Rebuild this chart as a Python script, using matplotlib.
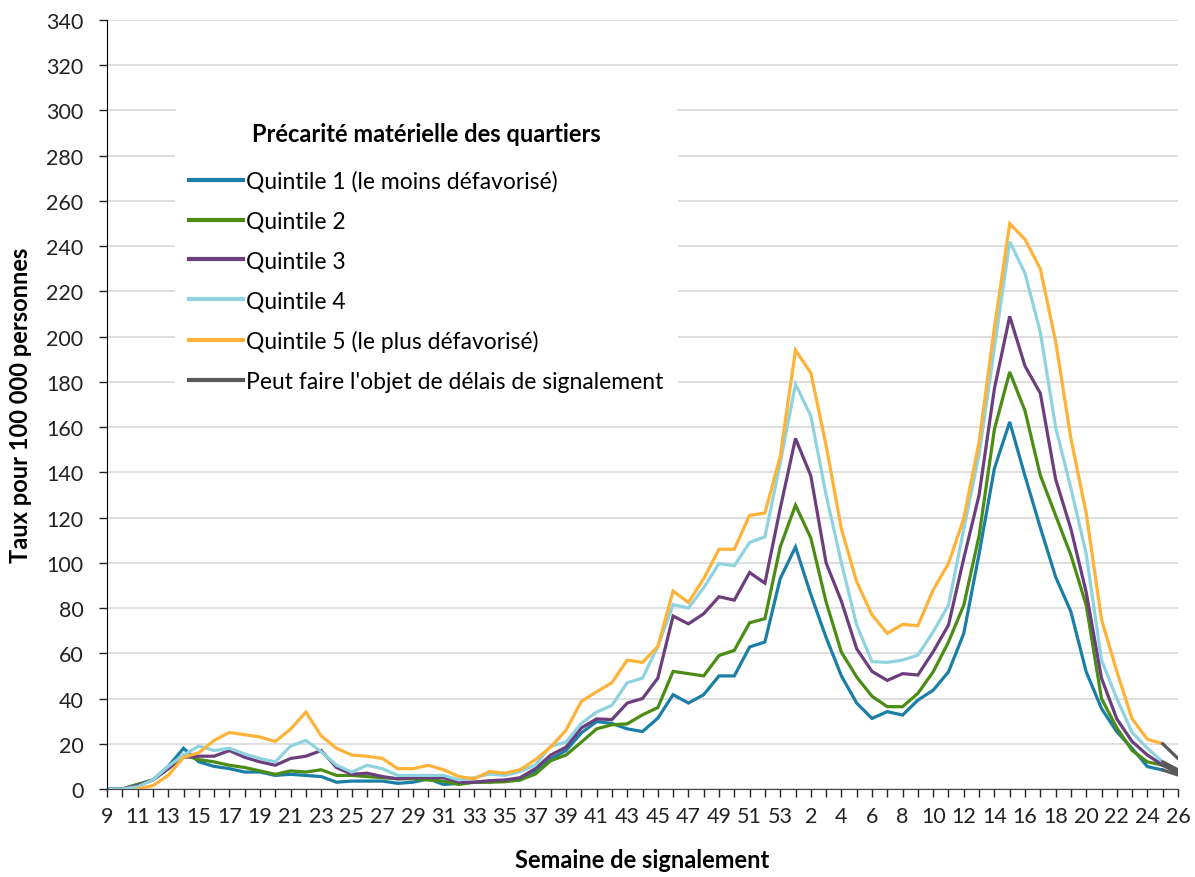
import numpy as np
import matplotlib.pyplot as plt
from matplotlib.lines import Line2D

plt.rcParams['font.family'] = ['Lato', 'DejaVu Sans']

# semaines : 9 a 53 (2020) puis 1 a 26 (2021)
weeks = list(range(9, 54)) + list(range(1, 27))

q1 = [0, 0, 2, 4, 10, 18, 12, 10, 9, 7.5, 7.5, 6, 6.5, 6, 5.5, 3, 3.5, 3.5, 3.5, 2.5, 3, 4.5, 2, 2.5, 3,
      3.2, 3.7, 4, 7.7, 13.3, 17, 24.8, 29.8, 29, 26.6, 25.4, 31.3, 41.7, 38, 41.7, 50, 50, 62.8, 65, 93,
      107, 86, 67, 50, 38, 31.2, 34.2, 32.7, 39.3, 43.7, 51.8, 68.8, 104, 141.7, 162.3, 138.4, 115.6, 93.8,
      78.4, 51.8, 35.6, 25.3, 18, 9.9, 8.4, 6.2]
q2 = [0, 0, 2, 4, 9, 15, 13, 12, 10.5, 9.5, 8, 6.5, 8, 7.5, 8.5, 6, 6, 5.5, 5, 4.5, 4.5, 4, 3.5, 2, 3,
      3, 3.2, 4, 6.6, 12.5, 15, 20.7, 26.6, 28.4, 28.8, 32.8, 36, 52, 51, 50, 59, 61.3, 73.5, 75.3, 107,
      125.5, 111, 82.7, 60.5, 49.5, 41, 36.4, 36.4, 42.3, 51.8, 65, 81.3, 112, 159, 184.4, 167.2, 138.7, 121,
      103.4, 81.3, 40, 27, 17, 12, 10.5, 7]
q3 = [0, 0, 1.5, 4, 9, 14, 14.5, 14.5, 17, 14, 12, 10.5, 13.5, 14.5, 17, 9.5, 6.5, 7, 5.5, 4.5, 5, 5, 5, 3, 3,
      3.7, 4, 5, 9, 15, 18.5, 27, 31, 30.7, 38, 40, 49, 76.5, 73, 77.5, 85, 83.5, 95.7, 91, 124,
      155, 138.5, 100, 83, 62, 52, 48, 51, 50.4, 60.7, 72.5, 102, 130, 177, 209, 187, 175, 137,
      115, 87, 49, 31, 21, 15, 10.6, 7.5]
q4 = [0, 0, 1, 4, 10, 15, 19, 17, 18, 15.5, 13.5, 12, 19, 21.5, 16.5, 10.5, 7.5, 10.5, 9, 6, 6, 6, 6, 4, 5,
      6.6, 6, 7.7, 10.6, 19, 20.7, 29, 34, 37, 47, 49, 63, 81.5, 80, 89, 99.7, 98.7, 109, 111.5, 144,
      179, 165, 130, 100, 72.5, 56.3, 56, 57, 59.2, 69.5, 81.3, 115, 148, 195, 242, 228, 202, 160,
      133, 104, 57, 40, 25, 18, 12, 8.5]
q5 = [None, None, 0, 1.5, 6, 14, 16, 21.5, 25, 24, 23, 21, 26.5, 34, 23.5, 18, 15, 14.5, 13.5, 9, 9, 10.5, 8.5, 5.5, 4.5,
      7.7, 7, 8.5, 13, 18.5, 26, 38.7, 43, 47, 57, 56, 63, 87.5, 82.5, 93, 106, 106, 121, 122, 147,
      194, 184, 152, 115, 91.6, 77, 68.8, 72.8, 72.2, 88, 99.7, 119.6, 153.5, 204, 250, 243, 230, 198,
      155, 122, 75, 52, 31, 22, 20, 13.5]

series = [q1, q2, q3, q4, q5]
labels = ['Quintile 1 (le moins défavorisé)', 'Quintile 2', 'Quintile 3', 'Quintile 4',
          'Quintile 5 (le plus défavorisé)']
colors = ['#1B7EA6', '#4A8C14', '#6B3E7D', '#8ED3DF', '#FFB238']
grey = '#595959'

fig = plt.figure(figsize=(11.95, 8.78), dpi=100)
ax = fig.add_axes([107 / 1195, 1 - 790 / 878, (1178 - 107) / 1195, (790 - 21) / 878])

x = np.arange(len(weeks))
for s, c in zip(series, colors):
    y = np.array(s, dtype=float)
    ax.plot(x[:-1], y[:-1], color=c, lw=2.3, solid_joinstyle='miter')
    ax.plot(x[-2:], y[-2:], color=grey, lw=2.3)

ax.set_xlim(0, len(weeks) - 1)
ax.set_ylim(0, 340)
ax.set_yticks(np.arange(0, 341, 20))
ax.set_xticks(x)
ax.set_xticklabels([str(w) if i % 2 == 0 else '' for i, w in enumerate(weeks)])
ax.tick_params(axis='both', labelsize=15.5, colors='#222222', length=6, width=1, direction='out')
ax.tick_params(axis='x', pad=6)
ax.tick_params(axis='y', pad=11)
ax.yaxis.grid(True, color='#d9d9d9', lw=1.2)
ax.set_axisbelow(True)
for side in ['top', 'right']:
    ax.spines[side].set_visible(False)
ax.spines['left'].set_color('black')
ax.spines['bottom'].set_color('#444444')

ax.set_ylabel('Taux pour 100 000 personnes', fontsize=17, fontweight='bold', labelpad=10)
ax.set_xlabel('Semaine de signalement', fontsize=17, fontweight='bold', labelpad=16)

handles = [Line2D([], [], color=c, lw=3) for c in colors] + [Line2D([], [], color=grey, lw=3)]
leg_labels = labels + ["Peut faire l'objet de délais de signalement"]
leg = ax.legend(handles, leg_labels, title='Précarité matérielle des quartiers',
                loc='upper left', bbox_to_anchor=(164 / 1195, 1 - 98 / 878),
                bbox_transform=fig.transFigure, fontsize=16.5, frameon=True,
                handlelength=2.35, handletextpad=0.15, labelspacing=0.82, borderpad=0.6)
leg.get_title().set_fontweight('bold')
leg.get_title().set_fontsize(17)
leg.get_frame().set_facecolor('white')
leg.get_frame().set_edgecolor('none')
leg.get_frame().set_alpha(1)
leg._legend_box.sep = 18

fig.savefig('out.png', dpi=100)
